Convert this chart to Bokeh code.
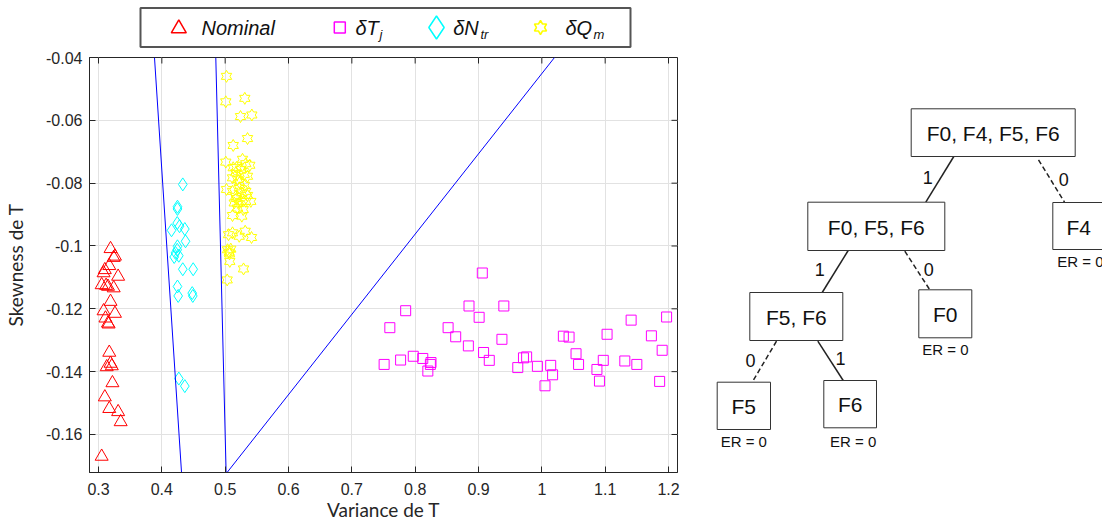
from bokeh.plotting import figure
from bokeh.models import Range1d, FixedTicker
from bokeh.layouts import row, column
from bokeh.embed import file_html
from bokeh.resources import INLINE
from bokeh.core.properties import value
import math

# ---------------- data ----------------
nominal_x = [0.319, 0.326, 0.324, 0.317, 0.310, 0.308, 0.331, 0.305, 0.312, 0.315, 0.324,
             0.319, 0.308, 0.326, 0.311, 0.315, 0.316, 0.317, 0.319, 0.313, 0.321, 0.322,
             0.310, 0.317, 0.331, 0.335, 0.305]
nominal_y = [-0.1009, -0.1033, -0.1037, -0.1063, -0.1076, -0.1086, -0.1097, -0.1124, -0.1126,
             -0.1129, -0.1134, -0.1177, -0.1207, -0.1215, -0.1230, -0.1246, -0.1249, -0.1339,
             -0.1374, -0.1385, -0.1382, -0.1436, -0.1481, -0.1518, -0.1528, -0.1560, -0.1670]

dT_x = [0.906, 0.785, 0.885, 0.940, 0.901, 0.760, 0.852, 0.864, 0.884, 0.937, 0.751,
        0.777, 0.797, 0.812, 0.825, 0.824, 0.820, 0.908, 0.917, 0.962, 0.971, 0.976,
        0.993, 1.005, 1.014, 1.017, 1.034, 1.043, 1.054, 1.058, 1.087, 1.091, 1.097,
        1.103, 1.131, 1.141, 1.150, 1.173, 1.186, 1.190, 1.197]
dT_y = [-0.1086, -0.1206, -0.1191, -0.1191, -0.1227, -0.1260, -0.1260, -0.1289, -0.1318,
        -0.1297, -0.1377, -0.1363, -0.1351, -0.1358, -0.1371, -0.1377, -0.1398, -0.1339,
        -0.1364, -0.1387, -0.1356, -0.1353, -0.1383, -0.1445, -0.1380, -0.1410, -0.1287,
        -0.1290, -0.1343, -0.1377, -0.1393, -0.1430, -0.1364, -0.1281, -0.1366, -0.1236,
        -0.1377, -0.1286, -0.1431, -0.1332, -0.1226]

dN_x = [0.4331, 0.4247, 0.4247, 0.4243, 0.4153, 0.4279, 0.4363, 0.4374, 0.4247, 0.4216,
        0.4268, 0.4195, 0.4243, 0.4331, 0.4495, 0.4247, 0.4258, 0.4480, 0.4489, 0.4268, 0.4363]
dN_y = [-0.0804, -0.0875, -0.0882, -0.0927, -0.0950, -0.0937, -0.0946, -0.0985, -0.1001,
        -0.1022, -0.1031, -0.1035, -0.1012, -0.1074, -0.1074, -0.1129, -0.1159, -0.1150,
        -0.1159, -0.1422, -0.1446]

dQ_x = [0.5021, 0.5010, 0.5310, 0.5242, 0.5421, 0.5353, 0.5127, 0.5010, 0.5274, 0.5127,
        0.5326, 0.5389, 0.5168, 0.5247, 0.5301, 0.5116, 0.5195, 0.5353, 0.5021, 0.5116,
        0.5222, 0.5263, 0.5326, 0.5168, 0.5143, 0.5247, 0.5326, 0.5405, 0.5195, 0.5285,
        0.5116, 0.5263, 0.5053, 0.5116, 0.5222, 0.5316, 0.5416, 0.5037, 0.5064, 0.5089,
        0.5073, 0.5290, 0.5032, 0.5179, 0.5226, 0.5305, 0.5179, 0.5353, 0.5211, 0.5069]
dQ_y = [-0.0460, -0.0541, -0.0530, -0.0588, -0.0583, -0.0658, -0.0680, -0.0733, -0.0724,
        -0.0751, -0.0738, -0.0743, -0.0767, -0.0756, -0.0772, -0.0783, -0.0788, -0.0778,
        -0.0820, -0.0826, -0.0815, -0.0831, -0.0826, -0.0842, -0.0863, -0.0858, -0.0858,
        -0.0858, -0.0879, -0.0884, -0.0903, -0.0905, -0.0964, -0.0958, -0.0969, -0.0953,
        -0.0973, -0.1012, -0.1020, -0.1010, -0.1049, -0.1073, -0.1108, -0.0750, -0.0798,
        -0.0807, -0.0849, -0.0839, -0.0865, -0.1025]

# decision boundaries (endpoints, data units)
bound_x = [[0.3884, 0.4311], [0.4852, 0.5015], [0.5030, 1.0200]]
bound_y = [[-0.0400, -0.1721], [-0.0400, -0.1721], [-0.1721, -0.0400]]

xticks = [0.3, 0.4, 0.5, 0.6, 0.7, 0.8, 0.9, 1.0, 1.1, 1.2]
xtick_labels = ["0.3", "0.4", "0.5", "0.6", "0.7", "0.8", "0.9", "1", "1.1", "1.2"]
yticks = [-0.16, -0.14, -0.12, -0.1, -0.08, -0.06, -0.04]
ytick_labels = ["-0.16", "-0.14", "-0.12", "-0.1", "-0.08", "-0.06", "-0.04"]

legend_main = ["Nominal", "\u03b4T", "\u03b4N", "\u03b4Q"]
legend_sub = ["", "j", "tr", "m"]
colors = ["#FF0000", "#FF00FF", "#00FFFF", "#FFFF00"]

tree_labels = ["F0, F4, F5, F6", "F0, F5, F6", "F4", "F5, F6", "F0", "F5", "F6"]
tree_er = ["", "", "ER = 0", "", "ER = 0", "ER = 0", "ER = 0"]
edge_labels = ["1", "0", "1", "0", "0", "1"]
edge_dashed = [False, True, False, True, True, False]

# ---------------- layout constants (page pixels) ----------------
XR = (0.28579, 1.21421)
YR = (-0.1721, -0.0400)
FW, FH = 588, 415
BL, BR, BT, BB = 89, 21, 9, 52
LEG_H = 48
TREE_W = 404
TOTAL_H = LEG_H + BT + FH + BB

# tree boxes: left, right, top, bottom
box_l = [910.7, 807.3, 1052.3, 749.3, 918.3, 716.7, 823.3]
box_r = [1074.7, 944.3, 1112.0, 842.3, 971.3, 770.0, 876.0]
box_t = [108.3, 201.7, 202.0, 292.0, 289.3, 381.7, 380.0]
box_b = [156.0, 250.0, 249.0, 340.0, 337.3, 429.0, 427.3]
txt_x = [992.7, 875.8, 1078.3, 795.8, 944.8, 743.3, 849.7]
txt_y = [132.5, 226.5, 226.5, 316.5, 314.0, 406.0, 404.0]
er_x = [0, 0, 1080.0, 0, 945.0, 743.3, 852.7]
er_y = [0, 0, 261.0, 0, 349.0, 441.0, 441.0]
edge_x0 = [953.3, 1038.0, 847.7, 904.3, 776.0, 817.3]
edge_y0 = [156.0, 159.3, 250.0, 250.7, 340.7, 340.7]
edge_x1 = [925.3, 1064.0, 821.7, 929.3, 751.7, 842.7]
edge_y1 = [201.7, 201.7, 292.0, 289.3, 381.7, 380.0]
elab_x = [927.3, 1063.3, 819.3, 928.3, 750.0, 840.0]
elab_y = [177.0, 178.5, 269.0, 269.0, 359.5, 358.0]

leg_icon_x = [178.3, 339.3, 436.0, 540.0]
leg_text_x = [201.0, 355.0, 452.7, 565.0]
leg_sub_x = [0, 379.0, 480.0, 593.0]
leg_y = 27.0


def hexagram(cx, cy, R, sx, sy):
    xs, ys = [], []
    for k in range(12):
        ang = math.radians(90 + 30 * k)
        rr = R if k % 2 == 0 else R / math.sqrt(3)
        xs.append(cx + rr * math.cos(ang) * sx)
        ys.append(cy + rr * math.sin(ang) * sy)
    return xs, ys


# ---------------- legend figure (page pixel coords, frame aligned with plot) ----------------
lf = figure(frame_width=FW, frame_height=LEG_H, x_range=Range1d(BL, BL + FW),
            y_range=Range1d(LEG_H, 0), output_backend="svg", toolbar_location=None,
            min_border_left=BL, min_border_right=BR, min_border_top=0, min_border_bottom=0,
            x_axis_location=None, y_axis_location=None)
lf.grid.visible = False
lf.outline_line_color = None
lf.quad(left=[140], right=[630], top=[7.5], bottom=[46.5], fill_color="white",
        line_color="#555555", line_width=2)
lf.scatter([leg_icon_x[0]], [leg_y + 1], marker="triangle", size=15, fill_color=None,
           line_color=colors[0], line_width=1.5)
lf.quad(left=[leg_icon_x[1] - 5.5], right=[leg_icon_x[1] + 5.5], top=[leg_y - 5.5],
        bottom=[leg_y + 5.5], fill_color=None, line_color=colors[1], line_width=1.5)
lf.scatter([leg_icon_x[2]], [leg_y], marker="diamond", size=23, fill_color=None,
           line_color=colors[2], line_width=1.5)
hx, hy = hexagram(leg_icon_x[3], leg_y, 7, 1, 1)
lf.patches([hx], [hy], fill_color=None, line_color=colors[3], line_width=1.5)
lf.text(x=leg_text_x, y=[leg_y] * 4, text=legend_main, text_font=value("Liberation Sans"),
        text_font_style="italic", text_font_size="20px", text_baseline="middle",
        text_align="left", text_color="#111111")
lf.text(x=leg_sub_x[1:], y=[leg_y + 7] * 3, text=legend_sub[1:],
        text_font=value("Liberation Sans"), text_font_style="italic",
        text_font_size="13px", text_baseline="middle", text_align="left",
        text_color="#111111")

# ---------------- scatter figure ----------------
p = figure(frame_width=FW, frame_height=FH, x_range=Range1d(*XR), y_range=Range1d(*YR),
           output_backend="svg", toolbar_location=None,
           min_border_left=BL, min_border_right=BR, min_border_top=BT, min_border_bottom=BB)
p.outline_line_color = "#262626"
p.background_fill_color = "white"

sx = (XR[1] - XR[0]) / FW
sy = (YR[1] - YR[0]) / FH

p.scatter(nominal_x, nominal_y, marker="triangle", size=13, fill_color=None,
          line_color=colors[0], line_width=1)
HS = 5  # half side of the square marker, px
p.quad(left=[v - HS * sx for v in dT_x], right=[v + HS * sx for v in dT_x],
       bottom=[v - HS * sy for v in dT_y], top=[v + HS * sy for v in dT_y],
       fill_color=None, line_color=colors[1], line_width=1)
p.scatter(dN_x, dN_y, marker="diamond", size=13, fill_color=None,
          line_color=colors[2], line_width=1)
qxs, qys = [], []
for cx, cy in zip(dQ_x, dQ_y):
    a, b = hexagram(cx, cy, 6, sx, sy)
    qxs.append(a)
    qys.append(b)
p.patches(qxs, qys, fill_color=None, line_color=colors[3], line_width=1)
p.multi_line(bound_x, bound_y, line_color="#0000FF", line_width=1)

# inward ticks on the top and right edges of the box
TICK = 6
p.segment(x0=xticks, y0=[YR[1]] * len(xticks), x1=xticks,
          y1=[YR[1] - TICK * sy] * len(xticks), line_color="#262626", line_width=1)
p.segment(x0=[XR[1]] * len(yticks), y0=yticks, x1=[XR[1] - TICK * sx] * len(yticks),
          y1=yticks, line_color="#262626", line_width=1)

for ax in (p.xaxis[0], p.yaxis[0]):
    ax.major_tick_in = TICK
    ax.major_tick_out = 0
    ax.minor_tick_line_color = None
    ax.axis_line_color = "#262626"
    ax.major_tick_line_color = "#262626"
    ax.major_label_text_font = "Liberation Sans"
    ax.major_label_text_font_size = "16px"
    ax.major_label_text_color = "#262626"
    ax.axis_label_text_font = "Lato"
    ax.axis_label_text_font_size = "19px"
    ax.axis_label_text_font_style = "normal"
    ax.axis_label_text_color = "#262626"

p.xaxis.ticker = FixedTicker(ticks=xticks)
p.xaxis.major_label_overrides = dict(zip(xticks, xtick_labels))
p.yaxis.ticker = FixedTicker(ticks=yticks)
p.yaxis.major_label_overrides = dict(zip(yticks, ytick_labels))
p.xaxis.axis_label = "Variance de T"
p.yaxis.axis_label = "Skewness de T"
p.xaxis.major_label_standoff = 10
p.yaxis.major_label_standoff = 7
p.xaxis.axis_label_standoff = 0
p.yaxis.axis_label_standoff = 16

p.xgrid.grid_line_color = "#e2e2e2"
p.ygrid.grid_line_color = "#e2e2e2"

# ---------------- tree figure (page pixel coords) ----------------
x0p = BL + FW + BR
tf = figure(frame_width=TREE_W, frame_height=TOTAL_H, x_range=Range1d(x0p, x0p + TREE_W),
            y_range=Range1d(TOTAL_H, 0), output_backend="svg", toolbar_location=None,
            min_border=0, x_axis_location=None, y_axis_location=None)
tf.grid.visible = False
tf.outline_line_color = None

sol = [i for i, d in enumerate(edge_dashed) if not d]
das = [i for i, d in enumerate(edge_dashed) if d]
tf.segment(x0=[edge_x0[i] for i in sol], y0=[edge_y0[i] for i in sol],
           x1=[edge_x1[i] for i in sol], y1=[edge_y1[i] for i in sol],
           line_color="#222222", line_width=1.5)
tf.segment(x0=[edge_x0[i] for i in das], y0=[edge_y0[i] for i in das],
           x1=[edge_x1[i] for i in das], y1=[edge_y1[i] for i in das],
           line_color="#222222", line_width=1.5, line_dash="5 3")
tf.quad(left=box_l, right=box_r, top=box_t, bottom=box_b, fill_color="white",
        line_color="#333333", line_width=1)
tf.text(x=txt_x, y=txt_y, text=tree_labels, text_font=value("Liberation Sans"),
        text_font_size="21px", text_align="center", text_baseline="middle",
        text_color="#111111")
er_idx = [i for i, t in enumerate(tree_er) if t]
tf.text(x=[er_x[i] for i in er_idx], y=[er_y[i] for i in er_idx],
        text=[tree_er[i] for i in er_idx], text_font=value("Liberation Sans"),
        text_font_size="15px", text_align="center", text_baseline="middle",
        text_color="#111111")
tf.text(x=elab_x, y=elab_y, text=edge_labels, text_font=value("Liberation Sans"),
        text_font_size="18px", text_align="center", text_baseline="middle",
        text_color="#111111")

layout = row(column(lf, p), tf)
open("out.html", "w").write(file_html(layout, INLINE))
